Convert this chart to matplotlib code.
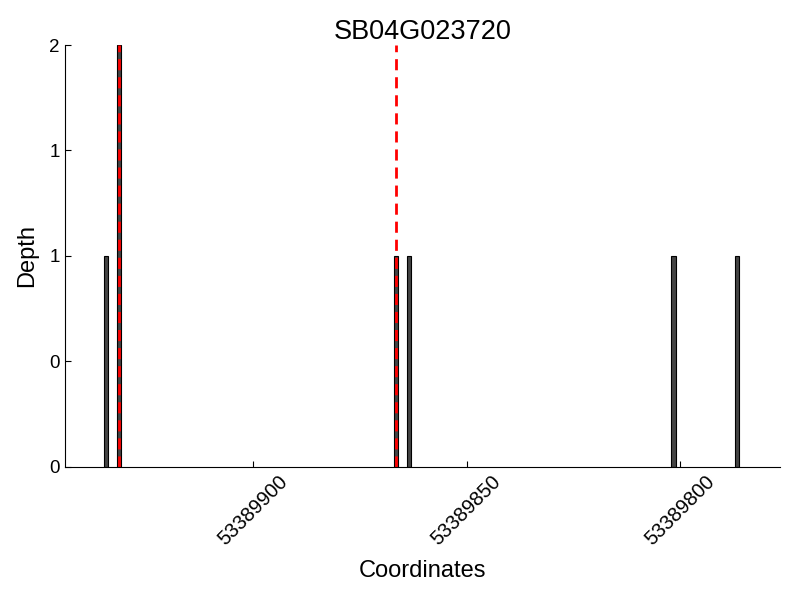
import matplotlib
matplotlib.use("Agg")
import matplotlib.pyplot as plt
from matplotlib.ticker import FormatStrFormatter

plt.rcParams['font.family'] = ['Liberation Sans', 'DejaVu Sans']

#%%
gene = "SB04G023720"
positions = [53389935, 53389932, 53389867, 53389864, 53389802, 53389787]
depth = [1, 2, 1, 1, 1, 1]
marks = [53389932, 53389867]   # red dashed markers
xticks = [53389900, 53389850, 53389800]
yticks = [0, 0.5, 1, 1.5, 2]

#%%
fig = plt.figure(figsize=(8, 6), dpi=100)
ax = fig.add_axes([0.081, 0.222, 0.894, 0.703])

# bars start at each position and extend one base to the right (axis is reversed)
ax.bar(positions, depth, width=-1, align='edge', color='#444444',
       edgecolor='black', linewidth=0.8)
for m in marks:
    ax.axvline(m - 0.5, color='red', linestyle=(0, (4, 2.5)), linewidth=2)

ax.set_xlim(53389944.2, 53389776.5)
ax.set_ylim(0, 2)
ax.set_xticks(xticks)
ax.set_xticklabels([str(t) for t in xticks], rotation=45, fontsize=14.5)
ax.set_yticks(yticks)
ax.yaxis.set_major_formatter(FormatStrFormatter('%d'))
ax.tick_params(axis='y', labelsize=13.5)
ax.tick_params(direction='in', length=4, width=0.8)

ax.spines['top'].set_visible(False)
ax.spines['right'].set_visible(False)

ax.set_xlabel("Coordinates", fontsize=17, labelpad=8)
ax.set_ylabel("Depth", fontsize=17, labelpad=8)
ax.set_title(gene, fontsize=19.5, pad=4)

fig.savefig("out.png", dpi=100)
